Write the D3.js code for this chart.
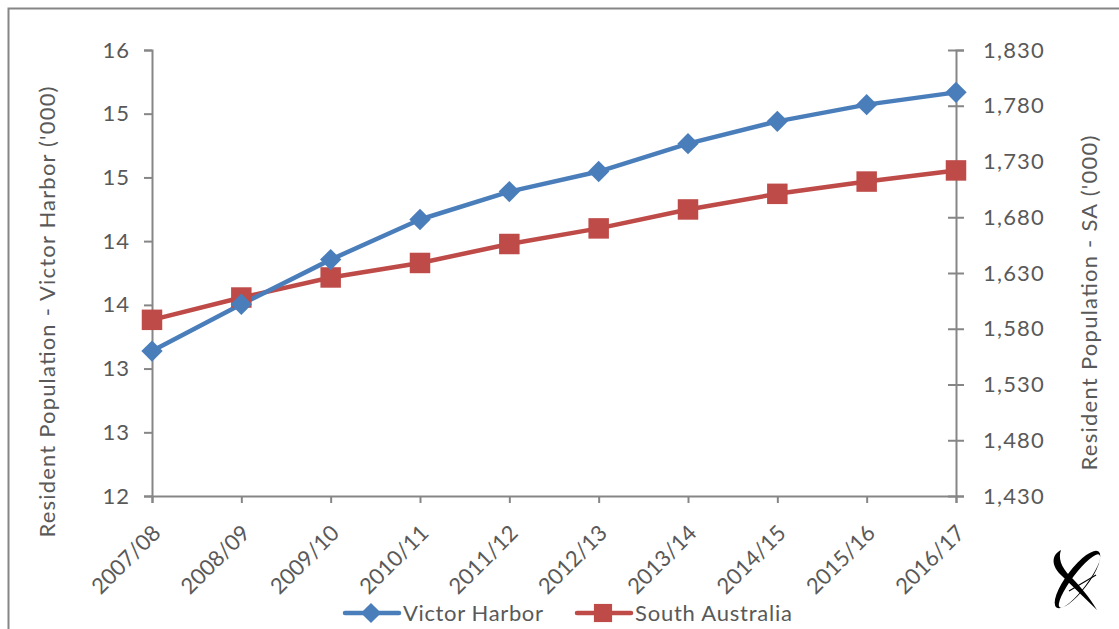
<!DOCTYPE html>
<html>
<head>
<meta charset="utf-8">
<script src="https://cdn.jsdelivr.net/npm/d3@7"></script>
<style>
  html, body { margin: 0; padding: 0; background: #fff; }
  svg { display: block; }
  text { font-family: Lato, "Open Sans", "DejaVu Sans", sans-serif; fill: #595959; }
</style>
</head>
<body>
<svg id="chart" width="1119" height="629"></svg>
<script>
// Financial years on the category axis
const years = ["2007/08", "2008/09", "2009/10", "2010/11", "2011/12",
               "2012/13", "2013/14", "2014/15", "2015/16", "2016/17"];

// Estimated resident population, thousands
const victorHarbor = [13.30, 13.72, 14.12, 14.48, 14.73, 14.91, 15.16, 15.36, 15.51, 15.62];
const southAustralia = [1588, 1608, 1626, 1639, 1656, 1670, 1687, 1701, 1712, 1722];

// Axis ticks
const leftTicks = [12, 12.571, 13.143, 13.714, 14.286, 14.857, 15.429, 16];
const rightTicks = [1430, 1480, 1530, 1580, 1630, 1680, 1730, 1780, 1830];

const seriesNames = ["Victor Harbor", "South Australia"];
const blue = "#4a7ebb";
const red = "#be4b48";
const axisGrey = "#868686";

const svg = d3.select("#chart");
const plot = { left: 152, right: 956, top: 50, bottom: 496 };

// outer frame
svg.append("rect")
  .attr("x", 8.5).attr("y", 8.5)
  .attr("width", 1119).attr("height", 629)
  .attr("fill", "none").attr("stroke", axisGrey).attr("stroke-width", 2);

const x = d3.scalePoint().domain(years).range([plot.left, plot.right]).padding(0);
const yL = d3.scaleLinear().domain([12, 16]).range([plot.bottom, plot.top]);
const yR = d3.scaleLinear().domain([1430, 1830]).range([plot.bottom, plot.top]);

function styleAxis(g) {
  g.select(".domain").attr("stroke", axisGrey).attr("stroke-width", 2);
  g.selectAll(".tick line").attr("stroke", axisGrey).attr("stroke-width", 2);
  g.selectAll(".tick text").attr("fill", "#595959").style("font-size", "22px");
}

// left axis
const gL = svg.append("g").attr("transform", `translate(${plot.left},0)`)
  .call(d3.axisLeft(yL).tickValues(leftTicks).tickFormat(d3.format(".0f"))
        .tickSizeOuter(0).tickSize(8).tickPadding(14));
styleAxis(gL);
gL.selectAll(".tick text").style("letter-spacing", "1px");

// right axis, ticks crossing the line
const gR = svg.append("g").attr("transform", `translate(${plot.right},0)`)
  .call(d3.axisRight(yR).tickValues(rightTicks).tickFormat(d3.format(","))
        .tickSizeOuter(0).tickSize(8).tickPadding(19));
styleAxis(gR);
gR.selectAll(".tick line").attr("x1", -8);
gR.selectAll(".tick text").style("letter-spacing", "1.2px");

// bottom axis
const gB = svg.append("g").attr("transform", `translate(0,${plot.bottom})`)
  .call(d3.axisBottom(x).tickSizeOuter(0).tickSize(7).tickPadding(6));
styleAxis(gB);
gB.selectAll(".tick text")
  .attr("text-anchor", "end")
  .attr("transform", "translate(4,33) rotate(-45)")
  .attr("dy", "0.35em").attr("y", 0).attr("x", 0);

// axis titles
svg.append("text")
  .attr("transform", "translate(47,312) rotate(-90)")
  .attr("text-anchor", "middle")
  .attr("dy", "0.35em")
  .attr("textLength", 451).attr("lengthAdjust", "spacing")
  .style("font-size", "22px")
  .text("Resident Population - Victor Harbor ('000)");

svg.append("text")
  .attr("transform", "translate(1089,303) rotate(-90)")
  .attr("text-anchor", "middle")
  .attr("dy", "0.35em")
  .attr("textLength", 335).attr("lengthAdjust", "spacing")
  .style("font-size", "22px")
  .text("Resident Population - SA ('000)");

// series lines
const lineL = d3.line().x((d, i) => x(years[i])).y(d => yL(d));
const lineR = d3.line().x((d, i) => x(years[i])).y(d => yR(d));

svg.append("path").datum(southAustralia)
  .attr("d", lineR).attr("fill", "none").attr("stroke", red)
  .attr("stroke-width", 4.5).attr("stroke-linejoin", "round");
svg.append("path").datum(victorHarbor)
  .attr("d", lineL).attr("fill", "none").attr("stroke", blue)
  .attr("stroke-width", 4.5).attr("stroke-linejoin", "round");

const diamond = d3.symbol().type(d3.symbolDiamond2).size(290);
const square = d3.symbol().type(d3.symbolSquare).size(420);

svg.append("g").selectAll("path").data(southAustralia).join("path")
  .attr("transform", (d, i) => `translate(${x(years[i])},${yR(d)})`)
  .attr("d", square).attr("fill", red);

svg.append("g").selectAll("path").data(victorHarbor).join("path")
  .attr("transform", (d, i) => `translate(${x(years[i])},${yL(d)})`)
  .attr("d", diamond).attr("fill", blue);

// legend
const legend = svg.append("g").attr("transform", "translate(0,613)");
const legendItems = [
  { name: seriesNames[0], color: blue, sym: d3.symbol().type(d3.symbolDiamond2).size(260), x0: 345, tw: 140 },
  { name: seriesNames[1], color: red, sym: d3.symbol().type(d3.symbolSquare).size(330), x0: 577, tw: 157 }
];
legendItems.forEach(it => {
  legend.append("line").attr("x1", it.x0).attr("x2", it.x0 + 54)
    .attr("y1", 0).attr("y2", 0).attr("stroke", it.color)
    .attr("stroke-width", 4.5).attr("stroke-linecap", "round");
  legend.append("path").attr("transform", `translate(${it.x0 + 26},0)`)
    .attr("d", it.sym).attr("fill", it.color);
  legend.append("text").attr("x", it.x0 + 58).attr("dy", "0.36em")
    .attr("textLength", it.tw).attr("lengthAdjust", "spacing")
    .style("font-size", "22px").text(it.name);
});

// corner mark: a tilted ring crossed by a tapering swash
const ring = svg.append("g").attr("transform", "translate(1077.5,579.5) rotate(-53)");
ring.append("path")
  .attr("d", "M-35,0 A35,11 0 1,0 35,0 A35,11 0 1,0 -35,0 Z " +
             "M-33,2.5 A33,7.5 0 1,1 33,2.5 A33,7.5 0 1,1 -33,2.5 Z")
  .attr("fill", "#000").attr("fill-rule", "evenodd");
svg.append("path")
  .attr("d", "M1061,550 C1051,555 1051,566 1062,576 L1097,610 " +
             "C1090,598 1080,586 1070,576 C1061,567 1058,558 1061,550 Z")
  .attr("fill", "#000");
svg.append("line").attr("x1", 1069).attr("y1", 591).attr("x2", 1096).attr("y2", 575)
  .attr("stroke", "#000").attr("stroke-width", 1.2);
</script>
</body>
</html>
